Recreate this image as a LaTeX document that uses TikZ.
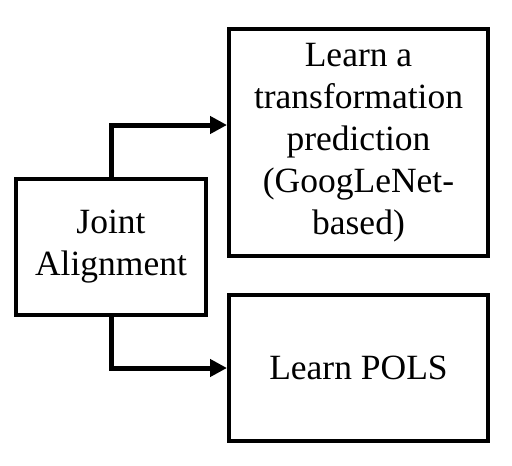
\documentclass[tikz,border=0pt]{standalone}
\usepackage{fontspec}
\setmainfont{Liberation Serif}
\usetikzlibrary{arrows.meta}
\usetikzlibrary{positioning}

\begin{document}
\begin{tikzpicture}[x=1pt,y=-1pt,
  stage/.style={draw,line width=4pt,align=center,inner sep=0pt,font=\fontsize{35.5}{42}\selectfont},
  feed/.style={line width=5pt,-{Triangle[length=17pt,width=17pt]}}]
\useasboundingbox (0,0) rectangle (512,466);
\node[stage,minimum width=190pt,minimum height=136pt] at (111,247) (A) {Joint\\Alignment};
\node[stage,minimum width=259pt,minimum height=227pt] at (358.5,142.5) (B) {Learn a\\transformation\\prediction\\(GoogLeNet-\\based)};
\node[stage,minimum width=259pt,minimum height=146pt] at (358.5,368) (C) {Learn POLS};
\coordinate (Bin) at (227,125);
\path[feed] (A.north) edge[to path={|- (\tikztotarget)}] (Bin);
\path[feed] (A.south) edge[to path={|- (\tikztotarget)}] (C.west);
\end{tikzpicture}
\end{document}
